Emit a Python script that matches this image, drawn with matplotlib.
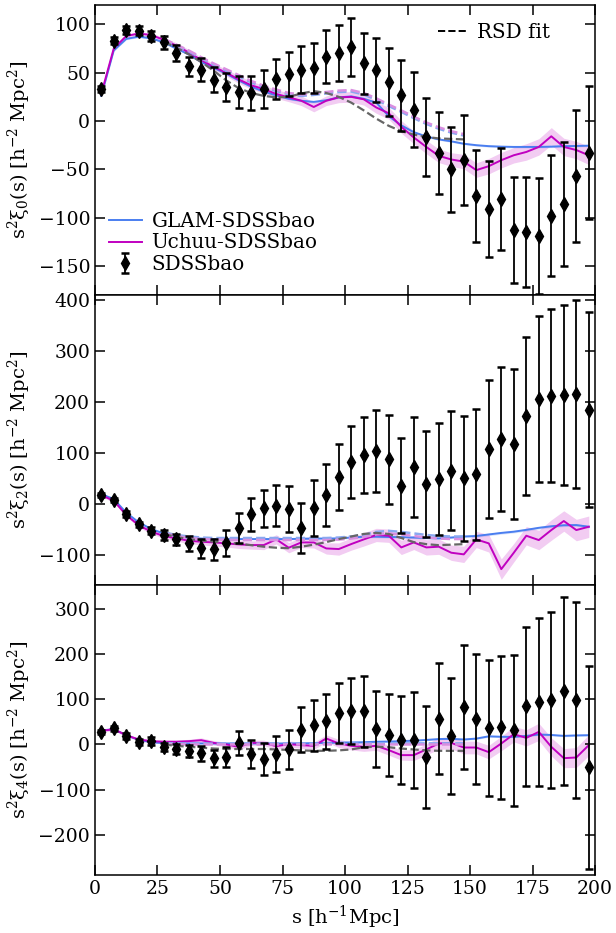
import numpy as np
import matplotlib
matplotlib.use("Agg")
import matplotlib.pyplot as plt
from matplotlib.lines import Line2D

plt.rcParams['font.family'] = ['DejaVu Serif']
plt.rcParams['mathtext.fontset'] = 'dejavuserif'

s = [2.5, 7.5, 12.5, 17.5, 22.5, 27.5, 32.5, 37.5, 42.5, 47.5,
     52.5, 57.5, 62.5, 67.5, 72.5, 77.5, 82.5, 87.5, 92.5, 97.5,
     102.5, 107.5, 112.5, 117.5, 122.5, 127.5, 132.5, 137.5, 142.5, 147.5,
     152.5, 157.5, 162.5, 167.5, 172.5, 177.5, 182.5, 187.5, 192.5, 197.5]

# ---------------- monopole ----------------
sdss0 = [33.4, 83.2, 94.5, 93.5, 87.6, 81.4, 70.1, 56.7, 53.3, 42.7,
         35.0, 29.9, 28.9, 33.0, 43.3, 48.9, 53.0, 55.0, 66.7, 70.5,
         76.3, 59.8, 53.0, 40.2, 26.5, 11.8, -16.5, -33.0, -50.1, -40.5,
         -77.6, -91.0, -80.7, -112.7, -115.0, -118.6, -97.9, -85.9, -57.0, -32.6]
sdss0_err = [3, 3.5, 4, 4.4, 5.2, 6.8, 8.2, 10, 11.7, 12.9,
             14.6, 16.3, 18, 19.4, 20.6, 22.7, 24.2, 26, 27, 28.7,
             29.9, 31.6, 33, 35, 36.6, 38.7, 40.7, 42, 44, 46.4,
             47.6, 49.5, 52.6, 55.3, 57, 60, 62.5, 64.4, 67.9, 69.2]
uchuu0 = [28, 75, 88, 90.5, 89, 84, 78, 71, 63, 56,
          50, 43, 37, 33, 28, 24.5, 21, 14.5, 21, 24.5,
          25, 22.5, 14, 8, -6, -17, -26.8, -36, -39.8, -42,
          -50.8, -46.7, -40.5, -35.4, -32, -26.8, -15.8, -26.8, -30, -35.5]
uchuu0_err = [2, 2, 2, 2, 2, 2.5, 3, 3, 3, 3.5,
              3.5, 4, 4, 4, 4.5, 4.5, 5, 5, 5, 5.5,
              5.5, 6, 6, 6, 6.5, 6.5, 7, 7, 7, 7.5,
              7.5, 8, 8, 8, 8.5, 8.5, 9, 9, 9, 9.5]
glam0 = [26, 73, 85, 87.3, 85.6, 81.4, 75, 69, 61, 55,
         49, 42, 35.5, 30.5, 26.5, 23, 21, 19.8, 21.5, 24.5,
         25.5, 23, 19, 5, -4.5, -11.5, -16, -19, -21, -23.5,
         -25, -26, -26.5, -26.8, -26.8, -26.8, -26.5, -26, -25.8, -25.5]
glam0_err = [1, 1, 1, 1, 1, 1, 1, 1, 1, 1,
             1, 1, 1, 1, 1, 1, 1, 1, 1, 1,
             1, 1, 1, 1, 1, 1, 1, 1, 1, 1,
             1, 1, 1, 1, 1, 1, 1, 1, 1, 1]

# RSD fits
s_fit = [27.5, 32.5, 37.5, 42.5, 47.5, 52.5, 57.5, 62.5, 67.5, 72.5,
         77.5, 82.5, 87.5, 92.5, 97.5, 102.5, 107.5, 112.5, 117.5, 122.5,
         127.5, 132.5, 137.5, 142.5, 147.5]
fit0_sdss = [82, 76, 69, 61, 52, 42, 34, 29, 26, 24.5,
             25, 28.5, 31, 29, 25, 19, 11, 2.5, -5, -10.5,
             -14, -16.5, -18, -18.5, -19]
fit0_glam = [84, 78, 72, 65, 58, 52, 46, 40, 35, 31,
             27.5, 26, 27, 28.5, 30, 30.5, 27.5, 22, 15.5, 9.5,
             3, -3, -8, -12, -15]
fit0_uchuu = [85, 79, 73, 66, 59.5, 53.5, 47.5, 41.5, 36.5, 32.5,
              29, 27.5, 28.5, 30, 31.5, 32, 29, 23.5, 17, 11,
              4.5, -1.5, -6.5, -10.5, -13.5]

# ---------------- quadrupole ----------------
sdss2 = [18.2, 8.4, -19, -39.3, -51.7, -60.2, -68.7, -76.5, -86.3, -88.3,
         -75.3, -47.1, -19.7, -7.9, -2.6, -9.2, -45.8, -6.6, 18.2, 52.9,
         83.6, 96.7, 104.5, 88.2, 36.5, 73.8, 39.8, 49.6, 65.9, 51,
         58.8, 108.4, 128, 117.6, 173.7, 206.5, 212.4, 214.3, 215.7, 184.9]
sdss2_err = [4, 4, 5, 5, 6.5, 10.5, 11.4, 14.7, 18, 20.6,
             25.2, 29.4, 32.7, 36.6, 40.5, 45, 49.3, 55.2, 60, 64.7,
             70.3, 75.2, 80.7, 86.6, 92.5, 98, 104.6, 110.5, 116, 122.5,
             128.4, 134.6, 141, 147, 154.6, 161.8, 169.3, 175.8, 184, 191]
uchuu2 = [18, 7, -21, -41, -53.6, -62, -66.7, -71.3, -73.3, -74.6,
          -76.5, -78.5, -79.8, -79.8, -68.6, -85, -74.6, -74.6, -86.4, -87.6,
          -77.8, -68.7, -60, -61.5, -84.4, -74.6, -84.4, -83, -94.8, -98,
          -68.7, -76.5, -126.9, -94.8, -61.5, -70, -50.4, -32.7, -50.4, -43.9]
uchuu2_err = [3, 3, 3, 4, 4, 5, 5, 6, 6, 7,
              7, 8, 8, 9, 9, 10, 10, 11, 11, 12,
              12, 13, 13, 13, 14, 14, 15, 15, 15, 16,
              16, 17, 20, 18, 18, 19, 20, 20, 21, 21]
glam2 = [20, 10.4, -16.4, -35.3, -48.4, -57, -62.2, -65.4, -67, -68,
         -68, -68, -68, -68, -68, -68, -67.5, -67, -67, -66.7,
         -65, -63.5, -63.5, -64, -64.2, -65, -66, -66.7, -65, -63,
         -62, -59, -56, -53.6, -50, -46, -43, -41, -40.6, -43.9]
glam2_err = [1.5, 1.5, 1.5, 1.5, 1.5, 1.5, 1.5, 1.5, 1.5, 1.5,
             1.5, 1.5, 1.5, 1.5, 1.5, 1.5, 1.5, 1.5, 1.5, 1.5,
             2, 2, 2, 2, 2, 2, 2, 2, 2, 2,
             2.5, 2.5, 2.5, 2.5, 2.5, 2.5, 2.5, 2.5, 2.5, 2.5]
fit2_sdss = [-58, -64, -68, -71, -73, -75, -77, -80, -83, -85,
             -86, -83, -79, -74, -68, -63, -58, -56, -58, -66,
             -74, -78, -80, -79, -78]
fit2_glam = [-55, -60, -63, -65, -66, -66, -66, -66, -66, -66,
             -66, -66, -66, -66, -65, -63, -60, -54, -52, -54,
             -57, -60, -62, -63, -63]
fit2_uchuu = [-57, -62, -66, -68, -69, -69.5, -70, -70, -70, -70,
              -70, -70, -70, -70, -69, -67, -64, -59, -57, -59,
              -62, -65, -67, -68, -68]

# ---------------- hexadecapole ----------------
sdss4 = [27.8, 35.3, 19, 5.7, 7.9, -5.2, -10.3, -14.8, -19.8, -30.9,
         -27.3, 2.2, -21.4, -32.4, -21.4, -11, 33, 42.6, 51.4, 69.7,
         74.1, 73.4, 33.7, 20.5, 9.5, 9.5, -27.3, 57.3, 19, 82.9,
         55.8, 36.6, 37.5, 31.5, 84.5, 94, 97.7, 117.5, 97.7, -50.7]
sdss4_err = [5, 5, 6, 7, 9.2, 8.8, 11, 13.6, 15.8, 19.5,
             22, 26.5, 30.5, 34.9, 39.7, 44, 49.6, 55.9, 60.6, 66,
             73, 78.3, 83.8, 90, 97.8, 105.8, 113, 122.4, 127.5, 136,
             143.3, 149.6, 157.7, 166.5, 175.3, 185.2, 193.7, 207.7, 216, 224.6]
uchuu4 = [30, 33.7, 20.5, 11, 7.3, 6, 6, 7.3, 9.5, 3.5,
          0, -5.2, 3.5, 3.5, -3.7, 0.7, -1.5, -3, 13.2, 2.2,
          -3, -5.2, -3, -12.5, -23.5, -23.5, -11, 2.2, 3.5, -6.7,
          -6.7, -16.9, 2.2, 22.7, 14.6, 27.8, -5.2, -30.2, -28.7, -1.5]
uchuu4_err = [3, 3, 3, 3, 3, 4, 4, 4, 5, 5,
              5, 6, 6, 6, 7, 7, 7, 8, 8, 9,
              9, 10, 10, 11, 11, 12, 12, 13, 13, 14,
              14, 15, 16, 17, 18, 19, 20, 21, 22, 23]
glam4 = [31, 33.7, 20.5, 10, 5, 3, 2.2, 2.2, 2.2, 2.2,
         2.2, 2.2, 2.2, 2.2, 2.2, 2.2, 2.5, 3, 3.5, 4,
         4.5, 5, 6, 6.5, 7.3, 8.5, 10, 12, 12.5, 11,
         13, 18, 17, 16.8, 19, 22, 21, 19, 20, 20.5]
glam4_err = [1, 1, 1, 1, 1, 1, 1, 1, 1, 1,
             1, 1, 1, 1, 1, 1, 1, 1, 1, 1,
             1.5, 1.5, 1.5, 1.5, 1.5, 1.5, 1.5, 1.5, 1.5, 1.5,
             2, 2, 2, 2, 2, 2, 2, 2, 2, 2]
fit4_sdss = [0, -3, -5, -7, -9, -10, -10, -10, -10, -11,
             -12, -13, -14, -14, -13, -11, -6, -5, -6, -9,
             -11, -13, -14, -14, -14]
fit4_glam = [3, 2.5, 2, 2, 2, 2, 2, 2, 2, 2,
             2, 2, 2, 2, 2, 2, 2, 2.5, 2.5, 2.5,
             2.5, 2.5, 2.5, 2.5, 2.5]
fit4_uchuu = [1, 0.5, 0, 0, 0, 0, 0, 0, 0, 0,
              0, 0, 0, 0, 0, 0, 0, 0, 0, 0,
              0, 0, 0, 0, 0]

ylabels = [r'$\rm s^2\xi_0(s)\ [h^{-2}\ Mpc^2]$',
           r'$\rm s^2\xi_2(s)\ [h^{-2}\ Mpc^2]$',
           r'$\rm s^2\xi_4(s)\ [h^{-2}\ Mpc^2]$']
ylims = [(-180, 120), (-158, 410), (-288, 352)]
yticks = [[-150, -100, -50, 0, 50, 100],
          [-100, 0, 100, 200, 300, 400],
          [-200, -100, 0, 100, 200, 300]]
xticks = [0, 25, 50, 75, 100, 125, 150, 175, 200]

panels = [
    (sdss0, sdss0_err, glam0, glam0_err, uchuu0, uchuu0_err, fit0_sdss, fit0_glam, fit0_uchuu),
    (sdss2, sdss2_err, glam2, glam2_err, uchuu2, uchuu2_err, fit2_sdss, fit2_glam, fit2_uchuu),
    (sdss4, sdss4_err, glam4, glam4_err, uchuu4, uchuu4_err, fit4_sdss, fit4_glam, fit4_uchuu),
]

C_GLAM = '#4a7ef0'
C_UCHUU = '#c000c0'

fig = plt.figure(figsize=(6.16, 9.33), dpi=100)
axes = fig.subplots(3, 1, sharex=True)
fig.subplots_adjust(left=0.1542, right=0.966, top=0.9946, bottom=0.0622, hspace=0)

FS = 13.5
LFS = 14.3
for i, ax in enumerate(axes):
    d, de, g, ge, u, ue, fs_, fg, fu = panels[i]
    sa = np.array(s)
    g = np.array(g); ge = np.array(ge); u = np.array(u); ue = np.array(ue)
    ax.fill_between(sa, g - ge, g + ge, color=C_GLAM, alpha=0.2, lw=0, zorder=1)
    ax.fill_between(sa, u - ue, u + ue, color='m', alpha=0.2, lw=0, zorder=1)
    lg, = ax.plot(sa, g, color=C_GLAM, lw=1.4, zorder=2, label='GLAM-SDSSbao')
    lu, = ax.plot(sa, u, color=C_UCHUU, lw=1.4, zorder=2, label='Uchuu-SDSSbao')
    ax.plot(s_fit, fg, ls='--', color='#8aa8f0', lw=1.8, zorder=3)
    ax.plot(s_fit, fu, ls='--', color='#d98fe0', lw=1.8, zorder=3)
    ax.plot(s_fit, fs_, ls='--', color='#666666', lw=1.6, zorder=3)
    eb = ax.errorbar(sa, d, yerr=de, fmt='d', color='k', ms=7.5, capsize=3.2,
                     elinewidth=1.3, capthick=1.8, zorder=5, label='SDSSbao')
    ax.set_xlim(0, 200)
    ax.set_ylim(*ylims[i])
    ax.set_yticks(yticks[i])
    ax.set_xticks(xticks)
    ax.tick_params(direction='in', top=True, right=True, length=7, width=1.1,
                   labelsize=FS)
    ax.set_ylabel(ylabels[i], fontsize=14)
    for sp in ax.spines.values():
        sp.set_linewidth(1.1)
    if i == 0:
        leg1 = ax.legend(handles=[lg, lu, eb], loc='lower left', frameon=False,
                         fontsize=LFS, handlelength=1.65, handletextpad=0.5,
                         borderaxespad=0.3, labelspacing=0.12,
                         bbox_to_anchor=(0.0, 0.025))
        ax.add_artist(leg1)
        ax.legend(handles=[Line2D([], [], color='k', ls='--', lw=1.4)],
                  labels=['RSD fit'], loc='upper right', frameon=False,
                  fontsize=LFS, handlelength=1.45, handletextpad=0.5,
                  bbox_to_anchor=(0.945, 1.0))

axes[2].set_xlabel(r'$\rm s\ [h^{-1}Mpc]$', fontsize=14)
fig.align_ylabels(axes)
fig.savefig('out.png', dpi=100)
